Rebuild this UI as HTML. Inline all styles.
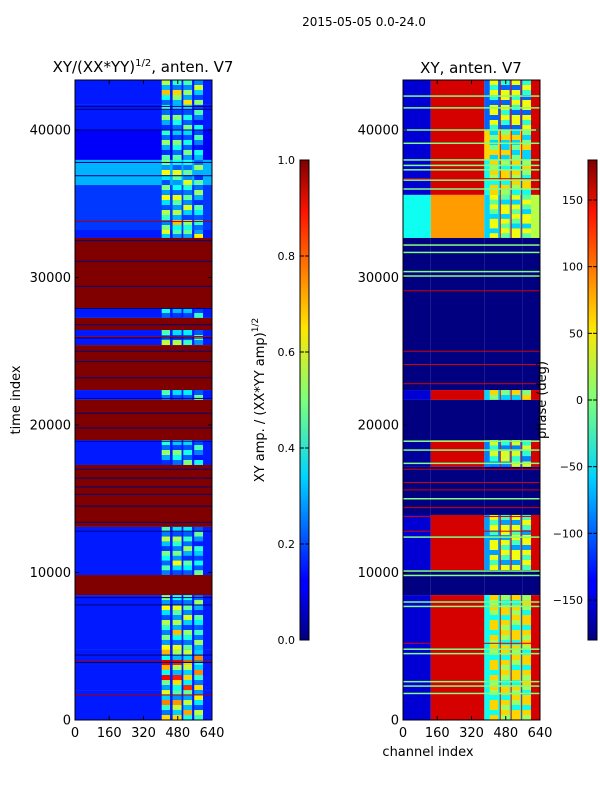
<!DOCTYPE html>
<html><head><meta charset="utf-8">
<style>
body{margin:0;background:#fff;}
svg{display:block;font-family:"DejaVu Sans","Liberation Sans",sans-serif;}
</style></head>
<body>
<svg id="fig" width="600" height="800" viewBox="0 0 600 800" xmlns="http://www.w3.org/2000/svg">
<defs>
<linearGradient id="jetV" x1="0" y1="1" x2="0" y2="0">
<stop offset="0" stop-color="#00007f"/><stop offset="0.11" stop-color="#0000ff"/>
<stop offset="0.125" stop-color="#0000ff"/><stop offset="0.34" stop-color="#00d4ff"/>
<stop offset="0.5" stop-color="#7dff7a"/><stop offset="0.65" stop-color="#ffe500"/>
<stop offset="0.89" stop-color="#ff1400"/><stop offset="1" stop-color="#7f0000"/>
</linearGradient>
</defs>
<text x="364" y="26" font-size="12" text-anchor="middle">2015-05-05 0.0-24.0</text>
<g id="left"></g>
<g id="right"></g>
<g id="axes"></g>
</svg>
<script>
// ---- data ----
const tMax = 43390;
const stripeChannels = [[405,444],[456,498],[506,547],[557,598]];
const stripeFactor = [1.0, 1.1, 0.95, 0.85];
const rowPattern = [1.0, 0.55, 1.25, 0.7, 0.4, 1.1, 0.85, 0.5];
// [tStart, tEnd, base amplitude (ch<400), stripe amplitude]
const leftBands = [
 [41700,43390,0.15,0.55],[40000,41700,0.15,0.42],[37970,40000,0.12,0.42],
 [36270,37970,0.3,0.5],[33220,36270,0.18,0.5],[32680,33220,0.15,0.6],
 [27930,32680,1.0,1.0],[27260,27930,0.15,0.4],[26440,27260,1.0,1.0],
 [25420,26440,0.15,0.45],[22370,25420,1.0,1.0],[21700,22370,0.15,0.45],
 [18980,21700,1.0,1.0],[17290,18980,0.15,0.42],[13090,17290,1.0,1.0],
 [9830,13090,0.15,0.45],[8470,9830,1.0,1.0],[4750,8470,0.15,0.5],
 [3730,4750,0.15,0.7],[2030,3730,0.15,0.7],[0,2030,0.15,0.6]
];
const leftDarkLines = [41600,41400,40000,37800,36900,32500,31100,29400,27900,26800,25900,25000,24300,23200,21800,20800,19800,18900,17000,16400,15800,15300,14500,13400,12800,8300,7800,4400,3900];
const leftRedLines = [33800,26000,4000,1700];
// right panel: [tStart,tEnd, A(ch<130), B(130-380), C high, C low, D(560-640)] degrees
const rightBands = [
 [40000,43390,-150,150,40,-100,150],[37970,40000,-150,150,-60,60,150],
 [35600,37970,-150,150,60,-40,150],[32680,35600,-40,80,40,-60,20],
 [22370,32680,-180,-180,-180,-180,-180],[21700,22370,-150,150,60,-60,150],
 [18980,21700,-180,-180,-180,-180,-180],[17160,18980,-170,150,30,-90,150],
 [13900,17160,-180,-180,-180,-180,-180],[10170,13900,-150,150,40,-80,150],
 [8470,10170,-180,-180,-180,-180,-180],[0,8470,-150,150,60,-40,150]
];
const greenLines = [42300,41500,40000,39100,37970,37600,37300,36600,36000,32200,31700,30400,30100,18900,18300,17400,15000,12400,10100,9800,8000,7700,4800,4500,2600,2300,1800];
const redLines = [36700,29100,25000,24100,22800,17000,16100,15600,14400,13800,12800,5200];
const leftTicks = [0,160,320,480,640];
const yTicks = [0,10000,20000,30000,40000];
const ampTicks = ["0.0","0.2","0.4","0.6","0.8","1.0"];
const phaseTicks = [-150,-100,-50,0,50,100,150];

// ---- helpers ----
function jet(v){v=Math.max(0,Math.min(1,v));
 const r=Math.min(1,Math.max(0,Math.min(4*v-1.5,-4*v+4.5)));
 const g=Math.min(1,Math.max(0,Math.min(4*v-0.5,-4*v+3.5)));
 const b=Math.min(1,Math.max(0,Math.min(4*v+0.5,-4*v+2.5)));
 return `rgb(${Math.round(r*255)},${Math.round(g*255)},${Math.round(b*255)})`;}
const NS="http://www.w3.org/2000/svg";
function rect(g,x,y,w,h,fill){const r=document.createElementNS(NS,'rect');
 r.setAttribute('x',x);r.setAttribute('y',y);r.setAttribute('width',w);r.setAttribute('height',h);r.setAttribute('fill',fill);g.appendChild(r);return r;}
const Y0=80,Y1=720,ROW=5;
const yScale=t=>Y1-(t/tMax)*(Y1-Y0);
function xScaleFor(x0){return c=>x0+c/640*137;}

// ---- left heatmap ----
const gl=document.getElementById('left');const xl=xScaleFor(75);
leftBands.forEach((b,i)=>{const y=yScale(b[1]),h=yScale(b[0])-y;
 let r=rect(gl,xl(0),y,xl(640)-xl(0),h,jet(b[2]));
 
 
 if(b[2]>=1) return;
 const n=Math.max(1,Math.round(h/ROW));
 for(let k=0;k<n;k++){
  stripeChannels.forEach((s,j)=>{const v=b[3]*stripeFactor[j]*rowPattern[(k+j*3)%rowPattern.length];
   const rr=rect(gl,xl(s[0]),y+k*h/n,xl(s[1])-xl(s[0]),h/n+0.3,jet(v));
   
   });
 }
});
leftDarkLines.forEach(t=>{const r=rect(gl,xl(0),yScale(t)-0.5,137,1,'#00007f');
 
 });
leftRedLines.forEach(t=>{const r=rect(gl,xl(0),yScale(t)-0.5,137,1,'#b00000');
 
 });

// ---- right heatmap ----
const gr=document.getElementById('right');const xr=xScaleFor(403);
const pv=d=>(d+180)/360;
rightBands.forEach((b,i)=>{const y=yScale(b[1]),h=yScale(b[0])-y;
 let r=rect(gr,xr(0),y,xr(130)-xr(0),h,jet(pv(b[2])));
 
 
 r=rect(gr,xr(130),y,xr(380)-xr(130),h,jet(pv(b[3])));
 
 
 r=rect(gr,xr(380),y,xr(560)-xr(380),h,jet(pv(b[5])));
 
 
 r=rect(gr,xr(560),y,xr(640)-xr(560),h,jet(pv(b[6])));
 
 
 if(b[4]===b[5]) return;
 const n=Math.max(1,Math.round(h/ROW));
 for(let k=0;k<n;k++){
  stripeChannels.forEach((s,j)=>{const p=rowPattern[(k+j*3)%rowPattern.length];
   const v=p>0.8?b[4]:(p>0.5?(b[4]+b[5])/2:b[5]);
   const rr=rect(gr,xr(s[0]),y+k*h/n,xr(s[1])-xr(s[0]),h/n+0.3,jet(pv(v)));
   
   });
 }
 [452,503,552].forEach(c=>{const rl=rect(gr,xr(c),y,1,h,jet(pv(140)));
  
  });
});
greenLines.forEach(t=>{const r=rect(gr,xr(0),yScale(t)-0.75,137,1.5,jet(pv(0)));
 
 });
redLines.forEach(t=>{const r=rect(gr,xr(0),yScale(t)-0.5,137,1,jet(pv(150)));
 
 });

// ---- axes ----
const ga=document.getElementById('axes');
function line(x1,y1,x2,y2){const l=document.createElementNS(NS,'line');
 l.setAttribute('x1',x1);l.setAttribute('y1',y1);l.setAttribute('x2',x2);l.setAttribute('y2',y2);
 l.setAttribute('stroke','#000');l.setAttribute('stroke-width','1');ga.appendChild(l);return l;}
function text(x,y,s,anchor,size,name){const t=document.createElementNS(NS,'text');
 t.setAttribute('x',x);t.setAttribute('y',y);t.setAttribute('font-size',size||13);
 t.setAttribute('text-anchor',anchor||'middle');t.textContent=s;ga.appendChild(t);
 
 return t;}
[[75,xl],[403,xr]].forEach(([x0,xs],k)=>{
 const f=rect(ga,x0,Y0,137,Y1-Y0,'none');f.setAttribute('stroke','#000');
 
 
 leftTicks.forEach(c=>{line(xs(c),Y1,xs(c),Y1-4);line(xs(c),Y0,xs(c),Y0+4);
  text(xs(c),737,String(c),'middle',13,'x-tick-label');});
 yTicks.forEach(t=>{line(x0,yScale(t),x0+4,yScale(t));line(x0+137,yScale(t),x0+133,yScale(t));
  text(x0-4,yScale(t)+4.5,String(t),'end',13,'y-tick-label');});
});
// titles
const t1=text(143,72,'','middle',15,'amp-panel-title');
t1.innerHTML='XY/(XX*YY)<tspan font-size="10" dy="-6">1/2</tspan><tspan dy="6">, anten. V7</tspan>';
text(471,73,'XY, anten. V7','middle',15,'phase-panel-title');
let yl=text(20,400,'time index','middle',13,'y-axis-title');yl.setAttribute('transform','rotate(-90 20 400)');
text(428,756,'channel index','middle',13,'x-axis-title');
// colorbars
function cbar(x,name){const r=rect(ga,x,160,9,480,'url(#jetV)');r.setAttribute('stroke','#000');
 
 }
cbar(300,'amp-colorbar');cbar(588,'phase-colorbar');
ampTicks.forEach((s,i)=>{const y=640-i*96;line(300,y,304,y);line(309,y,305,y);
 text(295,y+4,s,'end',11,'amp-colorbar-tick');});
phaseTicks.forEach(d=>{const y=640-(d+180)/360*480;line(588,y,592,y);line(597,y,593,y);
 text(583,y+4,String(d).replace('-','\u2212'),'end',11,'phase-colorbar-tick');});
const al=text(264,400,'','middle',13,'amp-colorbar-title');
al.innerHTML='XY amp. / (XX*YY amp)<tspan font-size="9" dy="-6">1/2</tspan>';
al.setAttribute('transform','rotate(-90 264 400)');
const pl=text(546,400,'phase (deg)','middle',13,'phase-colorbar-title');
pl.setAttribute('transform','rotate(-90 546 400)');
</script>
</body></html>
